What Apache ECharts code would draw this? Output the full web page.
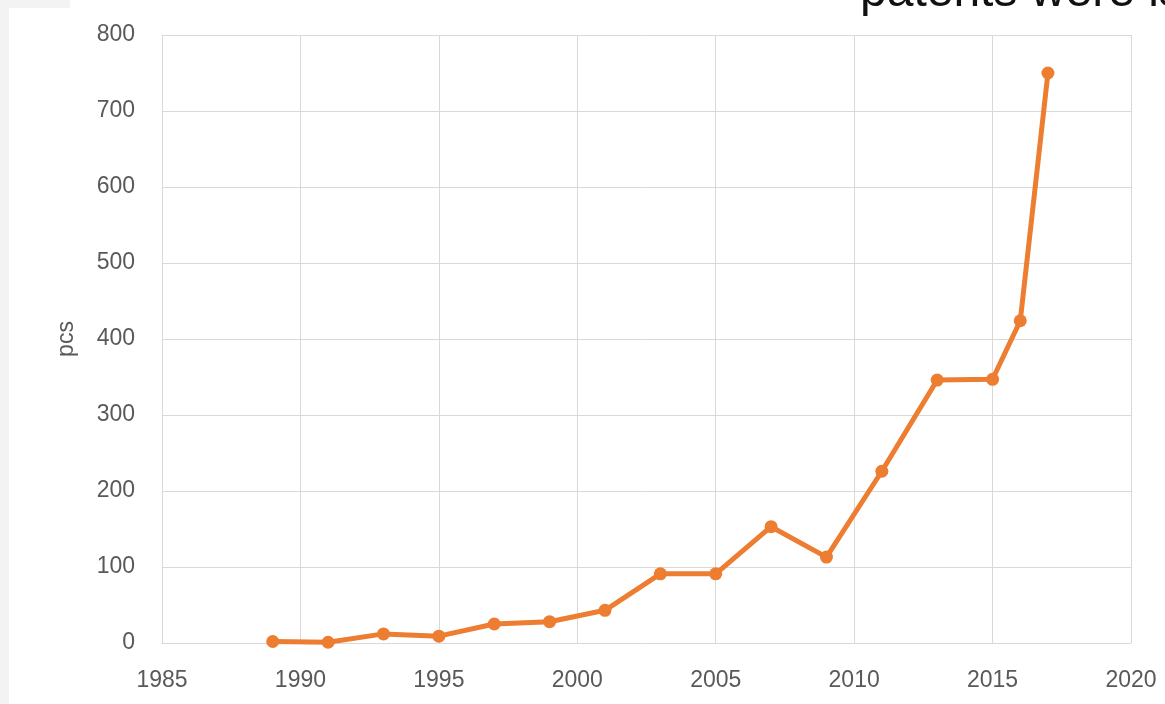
<!DOCTYPE html>
<html>
<head>
<meta charset="utf-8">
<title>Patents</title>
<script src="https://cdn.jsdelivr.net/npm/echarts@6/dist/echarts.min.js"></script>
<style>
  html, body { margin: 0; padding: 0; background: #ffffff; }
  #chart { width: 1165px; height: 704px; }
</style>
</head>
<body>
<div id="chart"></div>
<script>
// Patents issued per year
const years = [1989, 1991, 1993, 1995, 1997, 1999, 2001, 2003, 2005, 2007, 2009, 2011, 2013, 2015, 2016, 2017];
const patents = [2, 1, 12, 9, 25, 28, 43, 91, 91, 153, 113, 226, 346, 347, 424, 750];

const xMin = 1985, xMax = 2020, xStep = 5;
const yMin = 0, yMax = 800, yStep = 100;
const yAxisTitle = 'pcs';
const headline = 'patents were issued';

const chart = echarts.init(document.getElementById('chart'));
const gridColor = '#d9d9d9';
const labelColor = '#595959';
const lineColor = '#ED7D31';
const labelFont = '"Liberation Sans", Arial, sans-serif';

chart.setOption({
  animation: false,
  backgroundColor: '#ffffff',
  grid: { left: 162, right: 34, top: 35, bottom: 61 },
  graphic: [
    { type: 'rect', left: 0, top: 0, shape: { width: 9, height: 704 }, style: { fill: '#f3f3f3' }, z: -1 },
    { type: 'rect', left: 0, top: 0, shape: { width: 70, height: 8 }, style: { fill: '#f3f3f3' }, z: -1 },
    {
      type: 'text', left: 860, top: -31,
      style: { text: headline, font: '48px "Liberation Sans", Arial, sans-serif', fill: '#111111' }
    }
  ],
  xAxis: {
    type: 'value',
    min: xMin, max: xMax, interval: xStep,
    axisLine: { show: true, lineStyle: { color: gridColor, width: 1 } },
    axisTick: { show: false },
    splitLine: { show: true, lineStyle: { color: gridColor, width: 1 } },
    axisLabel: {
      color: labelColor, fontSize: 23, margin: 26,
      fontFamily: labelFont,
      formatter: v => String(v)
    }
  },
  yAxis: {
    type: 'value',
    min: yMin, max: yMax, interval: yStep,
    name: yAxisTitle,
    nameLocation: 'middle',
    nameGap: 84,
    nameRotate: 90,
    nameTextStyle: { color: labelColor, fontSize: 23, fontFamily: labelFont },
    axisLine: { show: true, lineStyle: { color: gridColor, width: 1 } },
    axisTick: { show: false },
    splitLine: { show: true, lineStyle: { color: gridColor, width: 1 } },
    axisLabel: {
      color: labelColor, fontSize: 23, margin: 27,
      fontFamily: labelFont,
      formatter: v => String(v)
    }
  },
  series: [{
    type: 'line',
    data: years.map((y, i) => [y, patents[i]]),
    symbol: 'circle',
    symbolSize: 13,
    lineStyle: { color: lineColor, width: 5 },
    itemStyle: { color: lineColor },
    z: 3
  }]
});
</script>
</body>
</html>
